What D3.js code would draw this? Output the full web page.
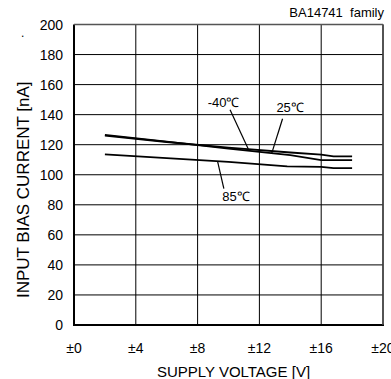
<!DOCTYPE html>
<html><head><meta charset="utf-8">
<script src="https://cdn.jsdelivr.net/npm/d3@7"></script>
<style>html,body{margin:0;padding:0;background:#fff;}svg{display:block;font-family:"Liberation Sans",Arial,sans-serif;}</style>
</head><body>
<svg id="c" width="391" height="379"></svg>
<script>
// ---- data ----
const xTicks = [0, 4, 8, 12, 16, 20];
const xTickLabels = ["±0", "±4", "±8", "±12", "±16", "±20"];
const yTicks = [0, 20, 40, 60, 80, 100, 120, 140, 160, 180, 200];
const yTickLabels = ["0", "20", "40", "60", "80", "100", "120", "140", "160", "180", "200"];
const seriesNames = ["-40℃", "25℃", "85℃"];
const voltsM40 = [2, 6, 10, 14, 16, 18];
const biasM40 = [126.5, 122, 117.4, 113, 109.8, 109.8];
const volts25 = [2, 6, 10, 14, 16, 16.8, 18];
const bias25 = [126, 121.8, 118, 114.8, 113.4, 112.2, 112.2];
const volts85 = [2, 6, 10, 13.8, 16, 16.8, 18];
const bias85 = [113.5, 111, 108.6, 105.6, 105.3, 104.4, 104.4];
// annotation label anchors and leader lines, in data units [volts, nA]
const labelPos = [[8.65, 145.2], [13.1, 141.8], [9.6, 82.5]];
const leaderFrom = [[10.1, 143.2], [13.5, 137.3], [9.7, 90.8]];
const leaderTo = [[11.28, 117.2], [12.8, 114.4], [9.3, 108.6]];
const xTitle = "SUPPLY VOLTAGE [V]";
const yTitle = "INPUT BIAS CURRENT [nA]";
const note = "BA14741  family";

// ---- chart ----
const svg = d3.select("#c");
const x = d3.scaleLinear().domain([0, 20]).range([74, 383]);
const y = d3.scaleLinear().domain([0, 200]).range([325, 24.5]);

// grid
svg.append("g").selectAll("line").data(yTicks.slice(1)).join("line")
  .attr("x1", x(0)).attr("x2", x(20)).attr("y1", d => y(d)).attr("y2", d => y(d))
  .attr("stroke", "#000").attr("stroke-width", 1);
svg.append("g").selectAll("line").data(xTicks.slice(1)).join("line")
  .attr("x1", d => x(d)).attr("x2", d => x(d)).attr("y1", y(0)).attr("y2", y(200))
  .attr("stroke", "#000").attr("stroke-width", 1);
// frame
svg.append("line").attr("x1", x(0)).attr("x2", x(0)).attr("y1", y(0)+1).attr("y2", y(200))
  .attr("stroke", "#000").attr("stroke-width", 2);
svg.append("line").attr("x1", x(0)-1).attr("x2", x(20)+1).attr("y1", y(0)).attr("y2", y(0))
  .attr("stroke", "#000").attr("stroke-width", 2);
svg.append("line").attr("x1", x(20)).attr("x2", x(20)).attr("y1", y(0)).attr("y2", y(200))
  .attr("stroke", "#444").attr("stroke-width", 1.5);
svg.append("line").attr("x1", x(0)).attr("x2", x(20)).attr("y1", y(200)).attr("y2", y(200))
  .attr("stroke", "#555").attr("stroke-width", 1.5);

// axes tick labels
svg.append("g").selectAll("text").data(yTicks).join("text")
  .attr("x", 63).attr("y", d => y(d)).attr("dy", "0.36em")
  .attr("text-anchor", "end").attr("font-size", 14).attr("fill", "#000")
  .text((d, i) => yTickLabels[i]);
svg.append("g").selectAll("text").data(xTicks).join("text")
  .attr("x", d => x(d)).attr("y", 353)
  .attr("text-anchor", "middle").attr("font-size", 14).attr("fill", "#000")
  .text((d, i) => xTickLabels[i]);

// titles
svg.append("text").attr("x", x(10)+5).attr("y", 377).attr("text-anchor", "middle")
  .attr("font-size", 15).text(xTitle);
svg.append("text").attr("transform", "translate(28.5," + ((y(0)+y(200))/2+15) + ") rotate(-90)")
  .attr("text-anchor", "middle").attr("font-size", 17).text(yTitle);
svg.append("text").attr("x", 384).attr("y", 17).attr("text-anchor", "end")
  .attr("font-size", 13).style("white-space", "pre").text(note);
svg.append("text").attr("x", 21).attr("y", 37).attr("font-size", 12).text(".");

// curves
const line = d3.line().x(d => x(d[0])).y(d => y(d[1]));
const series = [
  d3.zip(voltsM40, biasM40),
  d3.zip(volts25, bias25),
  d3.zip(volts85, bias85)
];
svg.append("g").selectAll("path").data(series).join("path")
  .attr("d", line).attr("fill", "none").attr("stroke", "#000").attr("stroke-width", 1.8);

// annotations
svg.append("g").selectAll("line").data(leaderFrom).join("line")
  .attr("x1", d => x(d[0])).attr("y1", d => y(d[1]))
  .attr("x2", (d, i) => x(leaderTo[i][0])).attr("y2", (d, i) => y(leaderTo[i][1]))
  .attr("stroke", "#000").attr("stroke-width", 1.2);
svg.append("g").selectAll("text").data(labelPos).join("text")
  .attr("x", d => x(d[0])).attr("y", d => y(d[1]))
  .attr("font-size", 13).attr("fill", "#000")
  .text((d, i) => seriesNames[i]);
</script>
</body></html>
